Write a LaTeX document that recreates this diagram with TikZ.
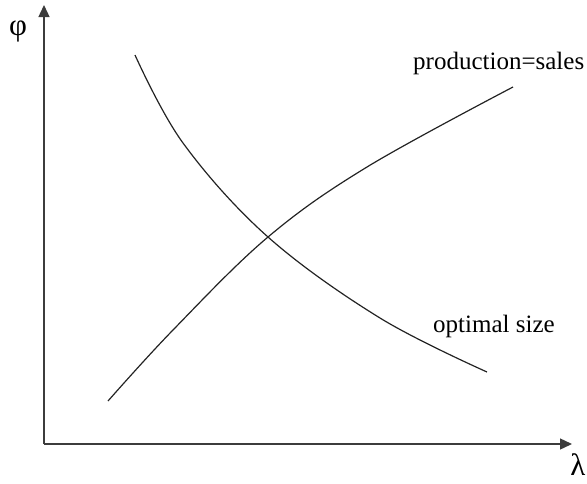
\documentclass[tikz,border=0pt]{standalone}
\usepackage{fontspec}
\setmainfont{Liberation Serif}
\usepackage{tikz}
\usetikzlibrary{arrows.meta, positioning}
\definecolor{AxisGray}{RGB}{60, 60, 60}
\definecolor{CurveDark}{RGB}{35, 35, 35}

\begin{document}
\begin{tikzpicture}[
    x=1pt, y=-1pt,
    axis/.style={line width=1.4pt, color=AxisGray, -{Triangle[length=12pt, width=11pt]}},
    curve/.style={line width=1.2pt, color=CurveDark},
    label/.style={inner sep=0pt, font=\fontsize{25}{29}\selectfont},
    symbol/.style={inner sep=0pt, font=\fontsize{31}{35}\selectfont}
  ]
    \useasboundingbox (0,0) rectangle (587,483);
    % axes
    \coordinate (origin) at (44,444);
    \coordinate (phiend) at (44,5);
    \coordinate (lambdaend) at (572,444);
    \draw[axis] (origin) -- (phiend);
    \draw[axis] (origin) -- (lambdaend);
    \node[symbol] (phi) at (18,31) {φ};
    \node[symbol] (lambda) at (578,465) {λ};

    % curves
    \draw[curve] plot[smooth, tension=0.6] coordinates {(135,55) (183,143) (268,237) (380,318) (487,372)};
    \draw[curve] plot[smooth, tension=0.6] coordinates {(108,401) (173,330) (268,237) (367,167) (513,87)};
    \node[label, anchor=base west] (prodsales) at (413,69) {production=sales};
    \node[label, anchor=base west] (optsize) at (433,332) {optimal size};
  \end{tikzpicture}
\end{document}
